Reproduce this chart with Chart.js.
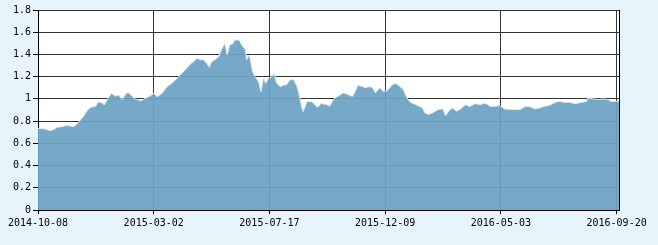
<!DOCTYPE html>
<html>
<head>
<meta charset="utf-8">
<script src="https://cdn.jsdelivr.net/npm/chart.js@4"></script>
<style>
html,body{margin:0;padding:0;background:#e8f4fc;}
#wrap{width:658px;height:245px;}
</style>
</head>
<body>
<div id="wrap"><canvas id="c" width="658" height="245"></canvas></div>
<script>
// trading-day index of each reading
const days = [0,6,10,13,16,20,24,29,31,34,38,41,44,48,50,54,55,58,61,64,67,70,73,75,78,80,84,85,89,93,96,99,103,107,111,114,118,122,127,129,132,135,137,140,142,144,147,150,152,155,157,159,162,163,167,169,172,173,175,176,178,180,183,185,187,189,191,194,196,198,201,204,206,209,212,215,217,219,220,223,227,230,232,235,240,242,245,248,250,253,256,259,261,264,265,269,271,274,277,280,282,284,286,289,292,294,297,300,303,306,309,313,315,319,321,324,328,332,336,338,342,344,347,350,353,355,358,361,363,367,369,372,375,379,383,387,392,396,400,402,405,409,412,416,420,424,428,432,436,441,445,449,452,455,456,461,465,469,473,475,478,482];
// net value
const values = [0.735,0.729,0.714,0.725,0.744,0.75,0.762,0.75,0.76,0.795,0.846,0.9,0.924,0.935,0.975,0.96,0.945,1.005,1.05,1.026,1.035,0.99,1.05,1.056,1.026,1.0,0.99,0.98,1.005,1.026,1.05,1.02,1.05,1.11,1.14,1.17,1.215,1.26,1.32,1.335,1.365,1.35,1.355,1.32,1.285,1.335,1.355,1.38,1.44,1.5,1.395,1.485,1.5,1.53,1.53,1.485,1.445,1.35,1.395,1.365,1.245,1.2,1.155,1.065,1.185,1.14,1.185,1.2,1.23,1.14,1.11,1.125,1.125,1.17,1.175,1.11,1.02,0.915,0.885,0.975,0.975,0.945,0.925,0.96,0.945,0.935,0.994,1.02,1.03,1.054,1.045,1.03,1.024,1.084,1.12,1.114,1.1,1.108,1.108,1.054,1.084,1.1,1.07,1.07,1.1,1.13,1.138,1.114,1.084,1.01,0.97,0.95,0.94,0.919,0.874,0.86,0.878,0.904,0.91,0.85,0.904,0.918,0.89,0.904,0.933,0.948,0.93,0.948,0.957,0.948,0.957,0.957,0.933,0.933,0.94,0.91,0.904,0.904,0.904,0.918,0.933,0.927,0.91,0.918,0.933,0.94,0.964,0.978,0.97,0.97,0.957,0.964,0.97,0.978,1.008,1.0,0.994,1.0,0.994,0.978,0.978,0.978];
const tickDays = [0,96,192,288,384,480];
const tickLabels = ['2014-10-08','2015-03-02','2015-07-17','2015-12-09','2016-05-03','2016-09-20'];
const lastDay = 482;
const yTicks = [0,0.2,0.4,0.6,0.8,1,1.2,1.4,1.6,1.8];

const points = days.map((d,i)=>({x:d,y:values[i]}));
const font = {family:'"DejaVu Sans Mono", monospace', size:10};

const plotBg = {
  id:'plotBg',
  beforeDraw(chart){
    const a = chart.chartArea, ctx = chart.ctx;
    ctx.save(); ctx.fillStyle='#ffffff';
    ctx.fillRect(a.left,a.top,a.right-a.left,a.bottom-a.top);
    ctx.restore();
  }
};

new Chart(document.getElementById('c'),{
  type:'line',
  data:{datasets:[{
    data:points,
    fill:'origin',
    backgroundColor:'rgba(108,163,195,0.93)',
    borderColor:'#d6ebf8',
    borderWidth:1,
    pointRadius:0,
    tension:0
  }]},
  plugins:[plotBg],
  options:{
    responsive:false,
    animation:false,
    layout:{padding:{top:10,right:39,left:0,bottom:0}},
    plugins:{legend:{display:false},tooltip:{enabled:false}},
    scales:{
      x:{
        type:'linear',
        min:0,max:lastDay,
        afterBuildTicks(s){ s.ticks = tickDays.concat([lastDay]).map(v=>({value:v})); },
        afterFit(s){ s.height = 35; },
        ticks:{
          autoSkip:false, maxRotation:0, padding:3, color:'#000', font,
          callback(v){ const i = tickDays.indexOf(v); return i>=0 ? tickLabels[i] : ''; }
        },
        grid:{
          color:(c)=> c.tick && c.tick.value===lastDay ? '#000' : '#333',
          tickColor:(c)=> c.tick && c.tick.value===lastDay ? 'rgba(0,0,0,0)' : '#000',
          tickLength:4, lineWidth:1, drawOnChartArea:true
        },
        border:{display:true,color:'#000',width:1}
      },
      y:{
        min:0,max:1.8,
        afterBuildTicks(s){ s.ticks = yTicks.map(v=>({value:v})); },
        afterFit(s){ s.width = 38; },
        ticks:{
          padding:2, color:'#000', font,
          callback(v){ return String(Math.round(v*10)/10); }
        },
        grid:{color:'#333', tickColor:'#000', tickLength:5, lineWidth:1},
        border:{display:true,color:'#000',width:1}
      }
    }
  }
});
</script>
</body>
</html>
